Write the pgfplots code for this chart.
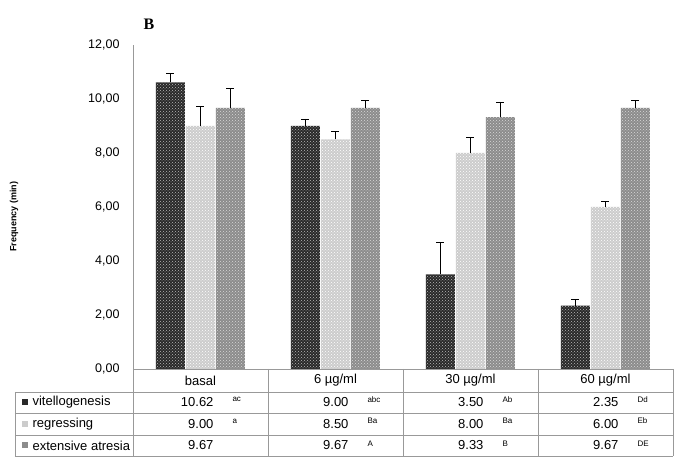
\documentclass[border=0pt]{standalone}
\usepackage{pgfplots}
\pgfplotsset{compat=1.18}
\usepackage{pgfplotstable}
\usepackage{fontspec}
\setmainfont{Liberation Sans}
\newfontfamily\seriffont{Liberation Serif}
\usetikzlibrary{patterns}

\definecolor{cvit}{gray}{0.16}
\definecolor{creg}{gray}{0.80}
\definecolor{catr}{gray}{0.55}

\pgfplotstableread{
x vit vite reg rege atr atre
0 10.62 0.33 9.00 0.74 9.67 0.73
1 9.00 0.26 8.50 0.28 9.67 0.26
2 3.50 1.20 8.00 0.56 9.33 0.56
3 2.35 0.21 6.00 0.22 9.67 0.26
}\data

\begin{document}
\begin{tikzpicture}[x=1pt,y=1pt]
\useasboundingbox (-133,-101) rectangle (556,369);
\begin{axis}[
  at={(0,0)}, anchor=south west,
  scale only axis, width=540pt, height=324pt,
  xmin=-0.5, xmax=3.5, ymin=0, ymax=12,
  ytick={0,2,...,12},
  axis x line=none,
  axis y line*=left,
  y axis line style={gray!80, line width=0.6pt},
  major tick length=0pt,
  /pgf/number format/assume math mode=true,
  /pgf/number format/fixed,
  /pgf/number format/fixed zerofill,
  /pgf/number format/precision=2,
  /pgf/number format/use comma,
  yticklabel style={anchor=east, xshift=-10pt, font=\fontsize{12.5}{14}\selectfont},
  ybar=1pt, bar width=29pt,
  clip=false,
  error bars/y dir=plus, error bars/y explicit,
  error bars/error bar style={black, line width=0.9pt},
  error bars/error mark options={rotate=90, mark size=4pt, black, line width=0.9pt},
]
\addplot[draw=none, fill=cvit, postaction={pattern=crosshatch dots, pattern color=gray!55}] table[x=x, y=vit, y error=vite]{\data};
\addplot[draw=none, fill=creg, postaction={pattern=crosshatch dots, pattern color=white}] table[x=x, y=reg, y error=rege]{\data};
\addplot[draw=none, fill=catr, postaction={pattern=crosshatch dots, pattern color=gray!30}] table[x=x, y=atr, y error=atre]{\data};
\end{axis}

% title and y label
\node[font=\seriffont\bfseries\fontsize{16}{18}\selectfont] at (16,344.5) {B};
\node[rotate=90, font=\bfseries\fontsize{9}{11}\selectfont] at (-119,152) {Frequency (min)};

% data table
\begin{scope}[gray!80, line width=0.6pt]
\draw (0,0) -- (540,0);
\draw (-118,-23) -- (540,-23);
\draw (-118,-44) -- (540,-44);
\draw (-118,-66) -- (540,-66);
\draw (-118,-87) -- (540,-87);
\draw (-118,-23) -- (-118,-87);
\foreach \xx in {0,135,270,405,540} \draw (\xx,0) -- (\xx,-87);
\end{scope}

\begin{scope}[font=\fontsize{13}{15}\selectfont]
\node at (67.5,-11.5) {basal};
\node at (202.5,-11.5) {6 µg/ml};
\node at (337.5,-11.5) {30 µg/ml};
\node at (472.5,-11.5) {60 µg/ml};

\fill[cvit] (-111,-36.5) rectangle (-105,-30.5);
\fill[creg] (-111,-58) rectangle (-105,-52);
\fill[catr] (-111,-79.5) rectangle (-105,-73.5);
\node[anchor=west] at (-104,-33.5) {vitellogenesis};
\node[anchor=west] at (-104,-55) {regressing};
\node[anchor=west] at (-104,-76.5) {extensive atresia};

\foreach \c/\v/\s in {0/10.62/ac, 1/9.00/abc, 2/3.50/Ab, 3/2.35/Dd}{
  \node[anchor=east] at (\c*135+84,-33.5) {\v};
  \node[anchor=west, font=\fontsize{8}{9}\selectfont] at (\c*135+96,-30.5) {\s};
}
\foreach \c/\v/\s in {0/9.00/a, 1/8.50/Ba, 2/8.00/Ba, 3/6.00/Eb}{
  \node[anchor=east] at (\c*135+84,-55) {\v};
  \node[anchor=west, font=\fontsize{8}{9}\selectfont] at (\c*135+96,-52) {\s};
}
\foreach \c/\v/\s in {0/9.67/{}, 1/9.67/A, 2/9.33/B, 3/9.67/DE}{
  \node[anchor=east] at (\c*135+84,-76.5) {\v};
  \node[anchor=west, font=\fontsize{8}{9}\selectfont] at (\c*135+96,-75) {\s};
}
\end{scope}
\end{tikzpicture}
\end{document}
